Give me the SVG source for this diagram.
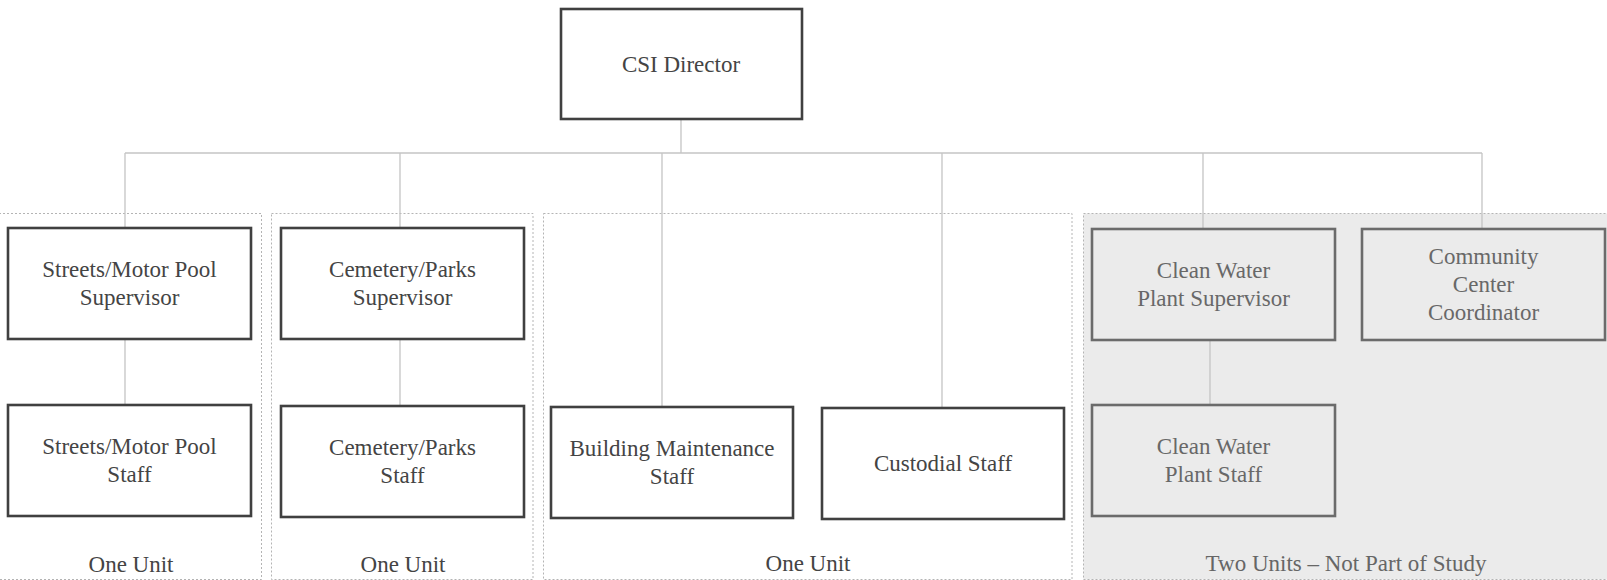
<svg xmlns="http://www.w3.org/2000/svg" width="1607" height="580" viewBox="0 0 1607 580" font-family="Liberation Serif, DejaVu Serif, serif">
  <style>
    text { font-size: 23px; text-anchor: middle; }
    .group { fill: none; stroke: #b4b4b4; stroke-width: 1; stroke-dasharray: 2 2; }
    .group.excluded { fill: #ebebeb; }
    .node rect { fill: #ffffff; stroke: #404040; stroke-width: 2.6; }
    .node text { fill: #444444; }
    .node.excluded rect { fill: #ebebeb; stroke: #6b6b6b; }
    .node.excluded text { fill: #686868; }
    .conn { fill: none; stroke: #c4c4c4; stroke-width: 1.3; }
    .unit { fill: #444444; }
    .unit.excluded { fill: #666666; }
  </style>

  <rect width="1607" height="580" fill="#ffffff"/>

  <!-- unit groupings -->
  <g id="groups">
    <rect class="group" x="-1" y="213.5" width="262.5" height="366"/>
    <rect class="group" x="271.5" y="213.5" width="261.5" height="366"/>
    <rect class="group" x="543.5" y="213.5" width="528.5" height="366"/>
    <rect class="group excluded" x="1083.5" y="213.5" width="530" height="366"/>
  </g>

  <!-- reporting lines -->
  <g id="connectors">
    <path class="conn" d="M681,119 V153"/>
    <path class="conn" d="M125,153 H1482"/>
    <path class="conn" d="M125,153 V228"/>
    <path class="conn" d="M400,153 V228"/>
    <path class="conn" d="M662,153 V407"/>
    <path class="conn" d="M942,153 V408"/>
    <path class="conn" d="M1203,153 V229"/>
    <path class="conn" d="M1482,153 V229"/>
    <path class="conn" d="M125,339 V405"/>
    <path class="conn" d="M400,339 V406"/>
    <path class="conn" d="M1210,340 V405"/>
  </g>

  <g id="csi-director" class="node">
    <rect x="561" y="9" width="241" height="110"/>
    <text x="681" y="72">CSI Director</text>
  </g>

  <g id="streets-supervisor" class="node">
    <rect x="8" y="228" width="243" height="111"/>
    <text x="129.5" y="277">Streets/Motor Pool</text>
    <text x="129.5" y="305">Supervisor</text>
  </g>

  <g id="cemetery-supervisor" class="node">
    <rect x="281" y="228" width="243" height="111"/>
    <text x="402.5" y="277">Cemetery/Parks</text>
    <text x="402.5" y="305">Supervisor</text>
  </g>

  <g id="cleanwater-supervisor" class="node excluded">
    <rect x="1092" y="229" width="243" height="111"/>
    <text x="1213.5" y="278">Clean Water</text>
    <text x="1213.5" y="306">Plant Supervisor</text>
  </g>

  <g id="community-coordinator" class="node excluded">
    <rect x="1362" y="229" width="243" height="111"/>
    <text x="1483.5" y="264">Community</text>
    <text x="1483.5" y="292">Center</text>
    <text x="1483.5" y="320">Coordinator</text>
  </g>

  <g id="streets-staff" class="node">
    <rect x="8" y="405" width="243" height="111"/>
    <text x="129.5" y="454">Streets/Motor Pool</text>
    <text x="129.5" y="482">Staff</text>
  </g>

  <g id="cemetery-staff" class="node">
    <rect x="281" y="406" width="243" height="111"/>
    <text x="402.5" y="455">Cemetery/Parks</text>
    <text x="402.5" y="483">Staff</text>
  </g>

  <g id="building-maintenance-staff" class="node">
    <rect x="551" y="407" width="242" height="111"/>
    <text x="672" y="456">Building Maintenance</text>
    <text x="672" y="484">Staff</text>
  </g>

  <g id="custodial-staff" class="node">
    <rect x="822" y="408" width="242" height="111"/>
    <text x="943" y="471">Custodial Staff</text>
  </g>

  <g id="cleanwater-staff" class="node excluded">
    <rect x="1092" y="405" width="243" height="111"/>
    <text x="1213.5" y="454">Clean Water</text>
    <text x="1213.5" y="482">Plant Staff</text>
  </g>

  <!-- unit captions -->
  <g id="unit-labels">
    <text class="unit" x="131" y="572">One Unit</text>
    <text class="unit" x="403" y="572">One Unit</text>
    <text class="unit" x="808" y="571">One Unit</text>
    <text class="unit excluded" x="1346" y="571">Two Units – Not Part of Study</text>
  </g>
</svg>
